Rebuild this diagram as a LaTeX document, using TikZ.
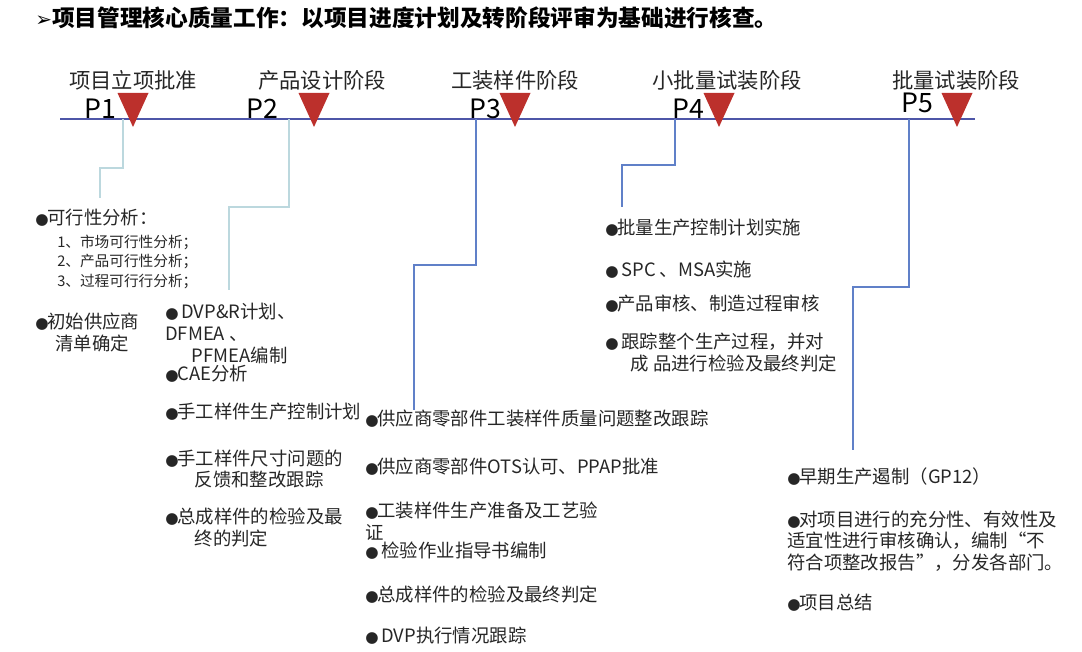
\documentclass[tikz,border=0pt]{standalone}
\usepackage{fontspec}
\setmainfont{Noto Sans CJK SC}
\newfontfamily\dotfont{DejaVu Sans}
\usetikzlibrary{calc, positioning}
\definecolor{lineBlue}{RGB}{78,86,168}
\definecolor{linkBlue}{RGB}{96,128,200}
\definecolor{linkLight}{RGB}{188,216,222}
\definecolor{markRed}{RGB}{188,48,44}
\definecolor{textGray}{RGB}{38,38,38}
\tikzset{
    phaseLabel/.style={font=\fontsize{16}{19}\selectfont, inner sep=0pt, text=textGray},
    pLabel/.style={font=\fontsize{20}{24}\selectfont, anchor=base, inner sep=0pt, text=black},
    item/.style={font=\fontsize{13.8}{16.3}\selectfont, anchor=west, align=left, inner sep=0pt, text=textGray},
    subItem/.style={item, font=\fontsize{11}{14.6}\selectfont},
    timeLine/.style={draw=lineBlue, line width=1.6pt},
    lightLink/.style={draw=linkLight, line width=1.3pt},
    blueLink/.style={draw=linkBlue, line width=1.3pt},
    phaseMark/.style={fill=markRed},
}
\newcommand{\bul}{{\dotfont\fontsize{11.5}{12}\selectfont ●}\hspace{-1pt}}
\newcommand{\drawElbow}[4][blueLink]{
    \draw[#1] (#2) |- (#3) -- (#4);
}

\begin{document}
\begin{tikzpicture}[x=0.75pt, y=-0.75pt]
        \useasboundingbox (0,0) rectangle (1082,652);

        % 标题
        \node[anchor=west, inner sep=0pt, font=\fontsize{17}{20}\selectfont\bfseries] (title) at (35,18)
            {{\dotfont\mdseries\fontsize{15}{16}\selectfont ➢}项目管理核心质量工作：以项目进度计划及转阶段评审为基础进行核查。};

        % 时间轴
        \coordinate (axisL) at (60,119);
        \coordinate (axisR) at (975,119);
        \draw[timeLine] (axisL) -- (axisR);

        % 阶段三角与名称
        \foreach \x/\lx/\lab [count=\i] in {133/133/项目立项批准, 314/322/产品设计阶段, 515/515/工装样件阶段, 719/727/小批量试装阶段, 957/956/批量试装阶段}{
            \fill[phaseMark] (\x-15.5,93) -- (\x+15.5,93) -- (\x,127) -- cycle;
            \node[phaseLabel] (phase\i) at (\lx,80) {\lab};
        }
        \node[pLabel] (P1) at (100,119) {P1};
        \node[pLabel] (P2) at (262,119) {P2};
        \node[pLabel] (P3) at (485,119) {P3};
        \node[pLabel] (P4) at (688,119) {P4};
        \node[pLabel] (P5) at (917,113) {P5};

        % 引线
        \coordinate (s1) at (123,119); \coordinate (k1) at (100,168); \coordinate (e1) at (100,198);
        \coordinate (s2) at (289,119); \coordinate (k2) at (229,207); \coordinate (e2) at (229,290);
        \coordinate (s3) at (476,119); \coordinate (k3) at (414,265); \coordinate (e3) at (414,410);
        \coordinate (s4) at (675,119); \coordinate (k4) at (622,165); \coordinate (e4) at (622,207);
        \coordinate (s5) at (909,119); \coordinate (k5) at (853,287); \coordinate (e5) at (853,450);
        \drawElbow[lightLink]{s1}{k1}{e1}
        \drawElbow[lightLink]{s2}{k2}{e2}
        \drawElbow{s3}{k3}{e3}
        \drawElbow{s4}{k4}{e4}
        \drawElbow{s5}{k5}{e5}

        % P1
        \node[item] (feas) at (35,218) {\bul 可行性分析：};
        \node[subItem] (feasList) at (57,261.5) {1、市场可行性分析；\\2、产品可行性分析；\\3、过程可行行分析；};
        \node[item] (supplier) at (35,332.5) {\bul 初始供应商\\\hspace*{15pt}清单确定};

        % P2
        \node[item] (dvpr) at (165,333.5) {\bul\ DVP\&R计划、\\DFMEA 、\\\hspace*{20pt}PFMEA编制};
        \node[item] (cae) at (165,374) {\bul CAE分析};
        \node[item] (handPlan) at (165,412) {\bul 手工样件生产控制计划};
        \node[item] (handDim) at (165,469) {\bul 手工样件尺寸问题的\\\hspace*{22pt}反馈和整改跟踪};
        \node[item] (asmCheck) at (165,527.5) {\bul 总成样件的检验及最\\\hspace*{22pt}终的判定};

        % P3
        \node[item] (suppIssue) at (365,419) {\bul 供应商零部件工装样件质量问题整改跟踪};
        \node[item] (ots) at (365,467) {\bul 供应商零部件OTS认可、PPAP批准};
        \node[item] (toolPrep) at (365,521.5) {\bul 工装样件生产准备及工艺验\\证};
        \node[item] (instr) at (365,551) {\bul\ 检验作业指导书编制};
        \node[item] (asmFinal) at (365,595) {\bul 总成样件的检验及最终判定};
        \node[item] (dvpTrack) at (365,636) {\bul\ DVP执行情况跟踪};

        % P4
        \node[item] (massPlan) at (605,228) {\bul 批量生产控制计划实施};
        \node[item] (spc) at (605,270) {\bul\ SPC 、MSA实施};
        \node[item] (audit) at (605,304) {\bul 产品审核、制造过程审核};
        \node[item] (trackAll) at (605,352.5) {\bul\ 跟踪整个生产过程，并对\\\hspace*{19pt}成 品进行检验及最终判定};

        % P5
        \node[item] (gp12) at (787,477) {\bul 早期生产遏制（GP12）};
        \node[item] (review) at (787,541) {\bul 对项目进行的充分性、有效性及\\适宜性进行审核确认，编制“不\\符合项整改报告”，分发各部门。};
        \node[item] (summary) at (787,603) {\bul 项目总结};

    \end{tikzpicture}
\end{document}
